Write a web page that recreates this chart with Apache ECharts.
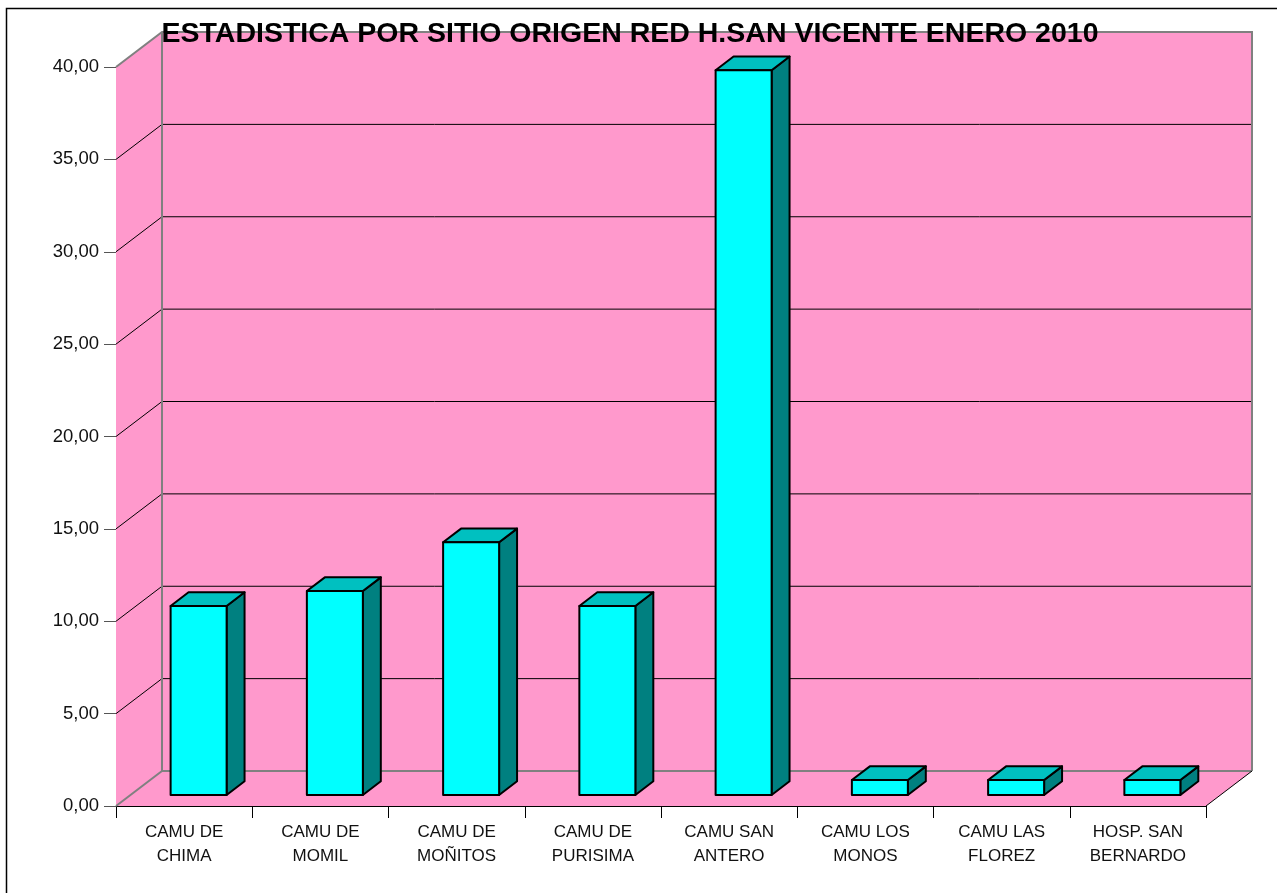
<!DOCTYPE html>
<html>
<head>
<meta charset="utf-8">
<script src="https://cdn.jsdelivr.net/npm/echarts@6/dist/echarts.min.js"></script>
<style>html,body{margin:0;padding:0;background:#fff;}#c{width:1277px;height:893px;}</style>
</head>
<body>
<div id="c"></div>
<script>
const titleText = 'ESTADISTICA POR SITIO ORIGEN RED H.SAN VICENTE ENERO 2010';
const categories = ['CAMU DE\nCHIMA', 'CAMU DE\nMOMIL', 'CAMU DE\nMOÑITOS', 'CAMU DE\nPURISIMA', 'CAMU SAN\nANTERO', 'CAMU LOS\nMONOS', 'CAMU LAS\nFLOREZ', 'HOSP. SAN\nBERNARDO'];
const values = [10.23, 11.04, 13.68, 10.23, 39.23, 0.81, 0.81, 0.81];
const yTicks = [0, 5, 10, 15, 20, 25, 30, 35, 40];

const FONT = '"Liberation Sans", Arial, sans-serif';
const WALL_DX = 46, WALL_DY = -35;       // depth of the 3D box
const FRONT_F = 0.315;                    // bar front face depth fraction
const BAR_DEPTH_F = 0.39;                 // bar depth fraction
const BAR_W = 56;

const chart = echarts.init(document.getElementById('c'), null, {renderer: 'canvas'});

function wallsRender(params, api) {
  const bw = api.size([1, 0])[0];
  const xL = api.coord([0, 0])[0] - bw / 2;
  const xR = api.coord([categories.length - 1, 0])[0] + bw / 2;
  const yMin = yTicks[0], yMax = yTicks[yTicks.length - 1];
  const y0 = api.coord([0, yMin])[1];
  const yT = api.coord([0, yMax])[1];
  const dx = WALL_DX, dy = WALL_DY;
  const pink = '#FF99CC';
  const children = [];
  children.push({type: 'polygon', shape: {points: [[xL + dx, yT + dy], [xR + dx, yT + dy], [xR + dx, y0 + dy], [xL + dx, y0 + dy]]}, style: {fill: pink}});
  children.push({type: 'polygon', shape: {points: [[xL, yT], [xL + dx, yT + dy], [xL + dx, y0 + dy], [xL, y0]]}, style: {fill: pink}});
  children.push({type: 'polygon', shape: {points: [[xL, y0], [xL + dx, y0 + dy], [xR + dx, y0 + dy], [xR, y0]]}, style: {fill: pink}});
  yTicks.forEach(function (v) {
    if (v === yMin || v === yMax) return;
    const y = api.coord([0, v])[1];
    children.push({type: 'polyline', shape: {points: [[xL, y], [xL + dx, y + dy], [xR + dx, y + dy]]}, style: {stroke: '#000', lineWidth: 1, fill: null}});
  });
  const gray = '#808080';
  children.push({type: 'polyline', shape: {points: [[xL, yT], [xL + dx, yT + dy], [xR + dx, yT + dy], [xR + dx, y0 + dy]]}, style: {stroke: gray, lineWidth: 2, fill: null}});
  children.push({type: 'polyline', shape: {points: [[xL + dx, yT + dy], [xL + dx, y0 + dy], [xR + dx, y0 + dy]]}, style: {stroke: gray, lineWidth: 2, fill: null}});
  children.push({type: 'line', shape: {x1: xL, y1: y0, x2: xL + dx, y2: y0 + dy}, style: {stroke: gray, lineWidth: 2}});
  children.push({type: 'line', shape: {x1: xR, y1: y0, x2: xR + dx, y2: y0 + dy}, style: {stroke: '#000', lineWidth: 1}});
  return {type: 'group', children: children};
}

function barRender(params, api) {
  const idx = api.value(0);
  const v = api.value(1);
  const pb = api.coord([idx, 0]);
  const pt = api.coord([idx, v]);
  const fx = WALL_DX * FRONT_F, fy = WALL_DY * FRONT_F;
  const ddx = WALL_DX * BAR_DEPTH_F, ddy = WALL_DY * BAR_DEPTH_F;
  const x1 = pb[0] - BAR_W / 2 + fx, x2 = pb[0] + BAR_W / 2 + fx;
  const yb = pb[1] + fy, yt = pt[1] + fy;
  const st = {stroke: '#000', lineWidth: 2, lineJoin: 'round'};
  return {type: 'group', children: [
    {type: 'polygon', shape: {points: [[x2, yt], [x2 + ddx, yt + ddy], [x2 + ddx, yb + ddy], [x2, yb]]}, style: Object.assign({fill: '#008080'}, st)},
    {type: 'polygon', shape: {points: [[x1, yt], [x1 + ddx, yt + ddy], [x2 + ddx, yt + ddy], [x2, yt]]}, style: Object.assign({fill: '#00C0C0'}, st)},
    {type: 'polygon', shape: {points: [[x1, yt], [x2, yt], [x2, yb], [x1, yb]]}, style: Object.assign({fill: '#00FFFF'}, st)}
  ]};
}

const option = {
  animation: false,
  backgroundColor: '#ffffff',
  textStyle: {fontFamily: FONT},
  graphic: [
    {type: 'rect', shape: {x: 6.5, y: 8.5, width: 1400, height: 1000}, style: {fill: null, stroke: '#000', lineWidth: 1.5}, z: 100},
    {type: 'text', x: 630, y: 34, style: {text: titleText, font: 'bold 28.5px ' + FONT, fill: '#000', align: 'center', verticalAlign: 'middle'}, z: 100}
  ],
  grid: {left: 116, right: 71, top: 67, bottom: 87, outerBoundsMode: 'none', containLabel: false},
  xAxis: {
    type: 'category',
    data: categories,
    boundaryGap: true,
    axisLine: {show: true, lineStyle: {color: '#000', width: 1}},
    axisTick: {show: true, length: 12, lineStyle: {color: '#000'}},
    axisLabel: {interval: 0, fontSize: 17, lineHeight: 24, color: '#111', margin: 14, fontFamily: FONT},
    splitLine: {show: false}
  },
  yAxis: {
    type: 'value',
    min: yTicks[0],
    max: yTicks[yTicks.length - 1],
    interval: yTicks[1] - yTicks[0],
    axisLine: {show: true, lineStyle: {color: '#000', width: 1}},
    axisTick: {show: true, length: 12, lineStyle: {color: '#555'}},
    axisLabel: {fontSize: 18.5, color: '#111', margin: 17, fontFamily: FONT,
      formatter: function (v) { return v.toFixed(2).replace('.', ','); }},
    splitLine: {show: false}
  },
  series: [
    {type: 'custom', renderItem: wallsRender, data: [[0, 0]], z: 1, silent: true, clip: false},
    {type: 'custom', renderItem: barRender, data: values.map(function (v, i) { return [i, v]; }), z: 2, clip: false}
  ]
};
chart.setOption(option);
</script>
</body>
</html>
